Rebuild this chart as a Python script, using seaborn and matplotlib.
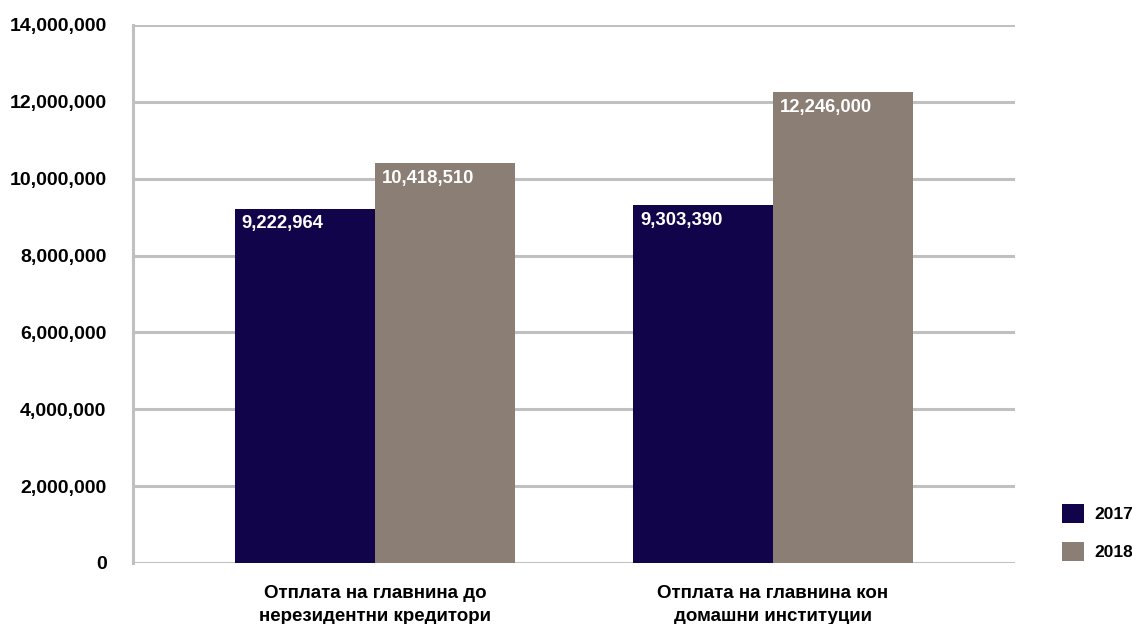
import matplotlib
matplotlib.use("Agg")
import matplotlib.pyplot as plt
import seaborn as sns
import pandas as pd
from matplotlib.patches import Patch
from matplotlib.ticker import FuncFormatter

categories = ["Отплата на главнина до\nнерезидентни кредитори",
              "Отплата на главнина кон\nдомашни институции"]
years = ["2017", "2018"]
values_2017 = [9222964, 9303390]
values_2018 = [10418510, 12246000]
colors = ["#12044A", "#8B7E75"]

df = pd.DataFrame({
    "category": categories * 2,
    "year": [years[0]] * 2 + [years[1]] * 2,
    "value": values_2017 + values_2018,
})

sns.set_theme(style="white")
plt.rcParams['font.family'] = ['Liberation Sans', 'DejaVu Sans']
plt.rcParams['text.color'] = 'black'
plt.rcParams['xtick.color'] = 'black'
plt.rcParams['ytick.color'] = 'black'

fig = plt.figure(figsize=(11.32, 6.24), dpi=100)
ax = fig.add_axes([0.1175, 0.0978, 0.7792, 0.8622])

sns.barplot(data=df, x="category", y="value", hue="year", order=categories,
            hue_order=years, palette=colors, width=0.704, saturation=1,
            ax=ax, legend=False, linewidth=0)

ax.set_xlim(-0.608, 1.608)
ax.set_ylim(0, 14000000)
ax.set_yticks(range(0, 14000001, 2000000))
ax.yaxis.set_major_formatter(FuncFormatter(lambda v, p: f"{int(v):,}"))
ax.yaxis.grid(True, color="#C0C0C0", linewidth=2.2)
ax.set_axisbelow(True)
for s in ["top", "right", "bottom"]:
    ax.spines[s].set_visible(False)
ax.spines["left"].set_color("#C0C0C0")
ax.spines["left"].set_linewidth(2.2)
ax.tick_params(axis="y", length=7, width=2.2, color="#C0C0C0", pad=12,
               labelsize=14, labelcolor="black")
ax.tick_params(axis="x", length=0, pad=16, labelcolor="black")
for lbl in ax.get_yticklabels():
    lbl.set_fontweight("bold")
ax.set_xticks(range(len(categories)))
ax.set_xticklabels(categories, fontsize=13.5, fontweight="bold",
                   linespacing=1.45)
ax.set_xlabel("")
ax.set_ylabel("")

for p in ax.patches:
    h = p.get_height()
    if h <= 0:
        continue
    ax.annotate(f"{int(round(h)):,}", xy=(p.get_x(), h), xytext=(5, -5),
                textcoords="offset points", ha="left", va="top",
                color="white", fontsize=13.3, fontweight="bold")

handles = [Patch(facecolor=c, edgecolor="none") for c in colors]
fig.legend(handles, years, loc="lower left", bbox_to_anchor=(0.938, 0.101),
           frameon=False, prop={"weight": "bold", "size": 12.5},
           handlelength=1.3, handleheight=1.3, labelspacing=1.1,
           handletextpad=0.55, borderpad=0, borderaxespad=0)

fig.savefig("out.png", dpi=100)
